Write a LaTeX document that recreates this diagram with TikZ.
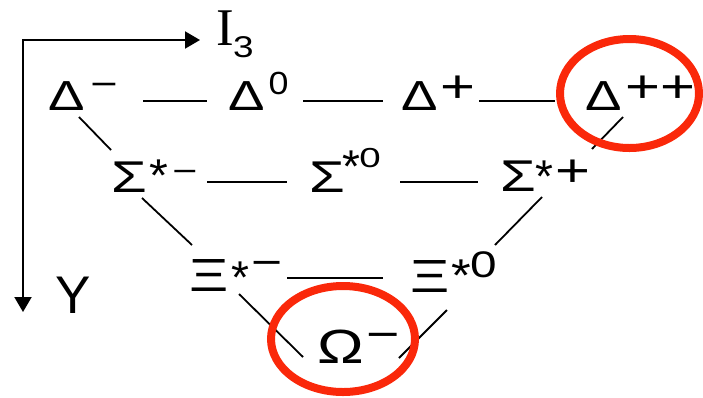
\documentclass[tikz,border=0pt]{standalone}
\usepackage{fontspec}
\setmainfont{Liberation Sans}
\newfontfamily\seriffont{Liberation Serif}
\usetikzlibrary{arrows.meta}
\definecolor{ringred}{RGB}{250,40,10}
\newcommand\gl[2]{{\fontsize{#1}{#1}\selectfont\scalebox{1.3}[1]{#2}}}
\newcommand\glx[3]{{\fontsize{#1}{#1}\selectfont\scalebox{#2}[1]{#3}}}
\tikzset{
  txt/.style={inner sep=0pt,outer sep=0pt,anchor=base},
  hline/.style={line width=2.6pt},
  dline/.style={line width=1.8pt},
  axisline/.style={line width=2pt,{Triangle[length=15pt,width=17pt]}-{Triangle[length=15pt,width=17pt]}},
  ring/.style={draw=ringred,line width=8pt}
}
\begin{document}
\begin{tikzpicture}[x=1pt,y=-1pt]
\useasboundingbox (0,0) rectangle (703,397);
% axes
\coordinate (origin) at (23,40);
\coordinate (i3end) at (200,40);
\coordinate (yend) at (23,312);
\draw[axisline] (i3end) -- (origin) -- (yend);
\node[txt] (i3) at (225,45) {\seriffont\fontsize{53}{53}\selectfont I};
\node[txt] (i3s) at (243.5,57) {\glx{30}{1.23}{3}};
\node[txt] (ylab) at (73,313) {\fontsize{53}{53}\selectfont Y};
% row 1
\node[txt] (dm) at (66.5,110) {\gl{42}{Δ}};
\node[txt] (dmS) at (104,96.3) {\gl{36}{−}};
\node[txt] (dz) at (246.5,110) {\gl{42}{Δ}};
\node[txt] (dzS) at (278.5,94.8) {\glx{32}{1.12}{0}};
\node[txt] (dp) at (420,110) {\gl{42}{Δ}};
\node[txt] (dpS) at (457.5,102) {\gl{46}{+}};
\node[txt] (dpp) at (604,110) {\gl{42}{Δ}};
\node[txt] (dppS) at (660,102.6) {\gl{46}{++}};
% row 2
\node[txt] (sm) at (129,192) {\gl{44.5}{Σ}};
\node[txt] (smA) at (158.5,191) {\glx{46}{1.05}{*}};
\node[txt] (smS) at (185,182.4) {\gl{33}{−}};
\node[txt] (sz) at (327,192) {\gl{44.5}{Σ}};
\node[txt] (szA) at (351,182) {\glx{46}{1}{*}};
\node[txt] (szS) at (370,167.8) {\glx{27.5}{1.4}{0}};
\node[txt] (sp) at (518,191.5) {\gl{44.5}{Σ}};
\node[txt] (spA) at (544,192.5) {\glx{46}{1}{*}};
\node[txt] (spS) at (573,186) {\gl{46}{+}};
% row 3
\node[txt] (xm) at (209.5,291.5) {\gl{46.5}{Ξ}};
\node[txt] (xmA) at (240,293.5) {\glx{46}{1}{*}};
\node[txt] (xmS) at (267.5,276) {\gl{41}{−}};
\node[txt] (xz) at (430,292) {\gl{46.5}{Ξ}};
\node[txt] (xzA) at (461,291.5) {\glx{46}{1.1}{*}};
\node[txt] (xzS) at (483.5,277) {\glx{37}{1.29}{0}};
% row 4
\node[txt] (om) at (341,363) {\gl{48}{Ω}};
\node[txt] (omS) at (383.5,349) {\gl{44}{−}};
% horizontal connectors
\coordinate (h1a) at (143,101); \coordinate (h1b) at (207,101);
\coordinate (h2a) at (303,101); \coordinate (h2b) at (383,101);
\coordinate (h3a) at (479,101); \coordinate (h3b) at (555,101);
\coordinate (h4a) at (207,182); \coordinate (h4b) at (287,182);
\coordinate (h5a) at (400,182); \coordinate (h5b) at (478,182);
\coordinate (h6a) at (287,278); \coordinate (h6b) at (383,278);
\draw[hline] (h1a) -- (h1b);
\draw[hline] (h2a) -- (h2b);
\draw[hline] (h3a) -- (h3b);
\draw[hline] (h4a) -- (h4b);
\draw[hline] (h5a) -- (h5b);
\draw[hline] (h6a) -- (h6b);
% diagonal connectors
\coordinate (d1a) at (79,117);  \coordinate (d1b) at (111,150);
\coordinate (d2a) at (623,117); \coordinate (d2b) at (592,149);
\coordinate (d3a) at (142,198); \coordinate (d3b) at (192,245);
\coordinate (d4a) at (542,197); \coordinate (d4b) at (495,245);
\coordinate (d5a) at (239,294); \coordinate (d5b) at (303,357);
\coordinate (d6a) at (447,310); \coordinate (d6b) at (399,358);
\draw[dline] (d1a) -- (d1b);
\draw[dline] (d2a) -- (d2b);
\draw[dline] (d3a) -- (d3b);
\draw[dline] (d4a) -- (d4b);
\draw[dline] (d5a) -- (d5b);
\draw[dline] (d6a) -- (d6b);
% rings
\draw[ring] (629.5,93.5) ellipse [x radius=69.5, y radius=54.5];
\draw[ring] (343,339) ellipse [x radius=72, y radius=53];
\end{tikzpicture}
\end{document}
